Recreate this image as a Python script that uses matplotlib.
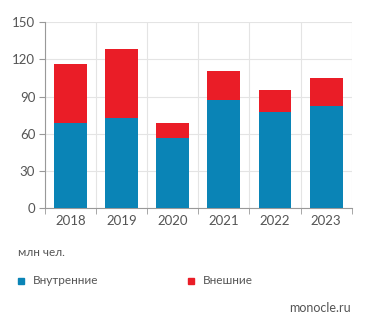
import matplotlib.pyplot as plt
from matplotlib.patches import Rectangle

# data (million trips)
years = ['2018', '2019', '2020', '2021', '2022', '2023']
domestic = [68.5, 73.0, 56.4, 87.6, 77.7, 82.7]
foreign = [47.9, 55.2, 12.6, 23.4, 17.5, 22.6]
labels = ['Внутренние', 'Внешние']
unit = 'млн чел.'
source = 'monocle.ru'

blue = '#0a84b6'
red = '#ea1d27'
grey = '#555555'
grid_c = '#e4e4e4'

plt.rcParams['font.family'] = ['Lato', 'DejaVu Sans']

fig = plt.figure(figsize=(3.71, 3.31), dpi=100)
ax = fig.add_axes([0.121, 0.371, 0.827, 0.562])

x = list(range(len(years)))
ax.bar(x, domestic, width=0.645, color=blue, zorder=3)
ax.bar(x, foreign, width=0.645, bottom=domestic, color=red, zorder=3)

ax.set_xlim(-0.5, len(years) - 0.5)
ax.set_ylim(0, 150)
ax.set_yticks(range(0, 151, 30))
ax.set_xticks(x)
ax.set_xticklabels(years)
ax.set_xticks([i + 0.5 for i in range(-1, len(years))], minor=True)

ax.grid(axis='y', color=grid_c, lw=0.8, zorder=0)
ax.grid(axis='x', which='minor', color=grid_c, lw=0.8, zorder=0)
ax.tick_params(axis='x', which='major', length=0, pad=5, labelsize=9.5, labelcolor=grey)
ax.tick_params(axis='x', which='minor', length=4, color='#999999', direction='out')
ax.tick_params(axis='y', length=4, color='#999999', labelsize=9.5, labelcolor=grey, pad=3)

for s in ['top', 'right']:
    ax.spines[s].set_visible(False)
for s in ['left', 'bottom']:
    ax.spines[s].set_color('#999999')
    ax.spines[s].set_linewidth(0.8)

fig.text(18 / 371, 1 - 253 / 331, unit, fontsize=8.5, color=grey, va='center')

for (xp, txt), c in zip([(18, labels[0]), (188, labels[1])], [blue, red]):
    fig.patches.append(Rectangle((xp / 371, 1 - 283.5 / 331), 6 / 371, 6 / 331,
                                 transform=fig.transFigure, color=c))
    fig.text((xp + 15) / 371, 1 - 280 / 331, txt, fontsize=8.5, color=grey, va='center')

fig.text(351 / 371, 1 - 308 / 331, source, fontsize=9, color=grey, va='center', ha='right')

fig.savefig('out.png', dpi=100, facecolor='white')
